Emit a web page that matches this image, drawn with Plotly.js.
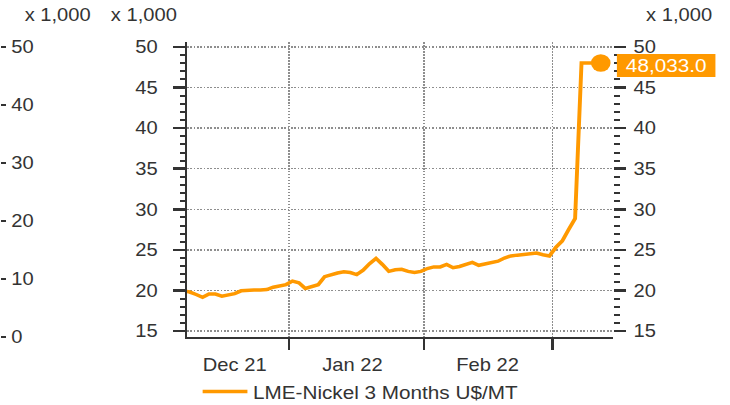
<!DOCTYPE html>
<html>
<head>
<meta charset="utf-8">
<script src="https://cdn.plot.ly/plotly-3.0.1.min.js"></script>
<style>
  html, body { margin: 0; padding: 0; background: #fff; overflow: hidden; }
  #wrap { width: 730px; height: 405px; overflow: hidden; }
  #chart { width: 652px; height: 405px; transform: scaleX(1.1196); transform-origin: 0 0; }
</style>
</head>
<body>
<div id="wrap"><div id="chart"></div></div>
<script>
// ---- data (thousand US$/MT), trading days ----
const dates = [
  '2021-12-09','2021-12-10','2021-12-13','2021-12-14','2021-12-15','2021-12-16','2021-12-17',
  '2021-12-20','2021-12-21','2021-12-22','2021-12-23','2021-12-24','2021-12-27','2021-12-28',
  '2021-12-29','2021-12-30','2021-12-31','2022-01-03','2022-01-04','2022-01-05','2022-01-06',
  '2022-01-07','2022-01-10','2022-01-11','2022-01-12','2022-01-13','2022-01-14','2022-01-17',
  '2022-01-18','2022-01-19','2022-01-20','2022-01-21','2022-01-24','2022-01-25','2022-01-26',
  '2022-01-27','2022-01-28','2022-01-31','2022-02-01','2022-02-02','2022-02-03','2022-02-04',
  '2022-02-07','2022-02-08','2022-02-09','2022-02-10','2022-02-11','2022-02-14','2022-02-15',
  '2022-02-16','2022-02-17','2022-02-18','2022-02-21','2022-02-22','2022-02-23','2022-02-24',
  '2022-02-25','2022-02-28','2022-03-01','2022-03-02','2022-03-03','2022-03-04','2022-03-07',
  '2022-03-08','2022-03-09','2022-03-10'
];
const nickel = [
  19.95, 19.8, 19.5, 19.15, 19.55, 19.55, 19.3,
  19.45, 19.6, 19.95, 20.05, 20.05, 20.05, 20.1,
  20.4, 20.6, 20.72, 21.15, 20.95, 20.25, 20.47,
  20.7, 21.7, 21.95, 22.15, 22.3, 22.2, 21.95,
  22.5, 23.3, 23.95, 23.2, 22.35, 22.55, 22.6,
  22.35, 22.2, 22.35, 22.7, 22.9, 22.9, 23.2,
  22.8, 22.95, 23.2, 23.45, 23.1, 23.25, 23.35,
  23.6, 24.0, 24.25, 24.35, 24.45, 24.55, 24.6,
  24.4, 24.25, 25.3, 26.1, 27.5, 28.85, 48.033,
  48.033, 48.033, 48.033
];
const seriesName = 'LME-Nickel 3 Months U$/MT';
const monthBounds = ['2021-12-31 23:59:59', '2022-01-31 23:59:59', '2022-02-28 23:59:59'];
const monthLabelPos = ['2021-12-21 12:00', '2022-01-14 20:00', '2022-02-14 21:00'];
const monthLabels = ['Dec 21', 'Jan 22', 'Feb 22'];
const mainTicks = [15, 20, 25, 30, 35, 40, 45, 50];
const farTicks = [0, 10, 20, 30, 40, 50];
const unitLabel = 'x 1,000';

// ---- build ----
const xs = dates.map(d => d + ' 12:00');
const lastX = xs[xs.length - 1];
const lastY = nickel[nickel.length - 1];
const fmt = v => (v * 1000).toLocaleString('en-US', {minimumFractionDigits: 1, maximumFractionDigits: 1});

const ORANGE = '#FF9900';
const DARK = '#333333';
const GRID = '#8e8e8e';
const FONT = '"Liberation Sans", Arial, sans-serif';
const xRange = ['2021-12-10 01:40', '2022-03-14 09:36'];
const yRange = [14.26, 50.62];
const breaks = [{bounds: ['sat', 'mon']}];

const traces = [
  {x: xs, y: nickel, type: 'scatter', mode: 'lines', name: seriesName,
   line: {color: ORANGE, width: 3.5}, xaxis: 'x', yaxis: 'y', hoverinfo: 'skip'},
  {x: [lastX], y: [lastY], type: 'scatter', mode: 'markers', showlegend: false,
   marker: {color: ORANGE, size: 17.5}, xaxis: 'x', yaxis: 'y', hoverinfo: 'skip', cliponaxis: false},
  {x: xs, y: nickel, type: 'scatter', mode: 'lines', showlegend: false,
   line: {color: 'rgba(0,0,0,0)', width: 0}, xaxis: 'x2', yaxis: 'y2', hoverinfo: 'skip'},
  {x: xs, y: nickel, type: 'scatter', mode: 'lines', showlegend: false,
   line: {color: 'rgba(0,0,0,0)', width: 0}, xaxis: 'x', yaxis: 'y3', hoverinfo: 'skip'}
];

const W = 652, H = 405, MT = 42, MB = 68;
const dom = [167 / W, 547.5 / W];
const tickFont = {family: FONT, size: 18, color: DARK};

const layout = {
  width: W, height: H,
  margin: {l: 0, r: 0, t: MT, b: MB, autoexpand: false},
  paper_bgcolor: '#fff', plot_bgcolor: '#fff',
  font: {family: FONT, size: 18, color: DARK},
  hovermode: false,
  showlegend: true,
  legend: {x: 176 / W, xanchor: 'left', y: -0.186, yanchor: 'middle', orientation: 'h',
           itemwidth: 40,
           font: {family: FONT, size: 18.5, color: DARK}, bgcolor: 'rgba(0,0,0,0)'},
  xaxis: {
    domain: dom, type: 'date', range: xRange, rangebreaks: breaks,
    tickmode: 'array', tickvals: monthBounds, ticktext: monthBounds.map(() => ''),
    ticks: 'outside', ticklen: 11, tickwidth: 2, tickcolor: DARK,
    showline: true, linecolor: DARK, linewidth: 2,
    showgrid: true, gridcolor: GRID, gridwidth: 1.5, griddash: '1.5px,1.5px',
    zeroline: false, anchor: 'y', fixedrange: true
  },
  xaxis2: {
    overlaying: 'x', type: 'date', range: xRange, rangebreaks: breaks, anchor: 'y', side: 'bottom',
    tickmode: 'array', tickvals: monthLabelPos, ticktext: monthLabels,
    ticks: 'outside', ticklen: 11, tickcolor: 'rgba(0,0,0,0)',
    showline: false, showgrid: false, zeroline: false, tickfont: tickFont
  },
  yaxis: {
    domain: [0, 1], range: yRange, anchor: 'x', side: 'left',
    tickmode: 'array', tickvals: mainTicks,
    ticks: 'outside', ticklen: 10.5, tickwidth: 2.5, tickcolor: DARK,
    minor: {dtick: 1, ticks: 'outside', ticklen: 4.5, tickwidth: 2, tickcolor: DARK, showgrid: false},
    showline: true, linecolor: DARK, linewidth: 2,
    showgrid: true, gridcolor: GRID, gridwidth: 1.5, griddash: '1.5px,1.5px',
    zeroline: false, tickfont: tickFont, ticklabelstandoff: 10
  },
  yaxis2: {
    overlaying: 'y', range: yRange, anchor: 'x', side: 'right',
    tickmode: 'array', tickvals: mainTicks,
    ticks: 'outside', ticklen: 10.7, tickwidth: 2.5, tickcolor: DARK,
    minor: {dtick: 1, ticks: 'outside', ticklen: 5.4, tickwidth: 2, tickcolor: DARK, showgrid: false},
    showline: false, showgrid: false, zeroline: false, tickfont: tickFont, ticklabelstandoff: 3
  },
  yaxis3: {
    overlaying: 'y', range: [0, 50.86], anchor: 'free', position: 0, side: 'right',
    tickmode: 'array', tickvals: farTicks,
    ticks: 'outside', ticklen: 4.5, tickwidth: 1.5, tickcolor: DARK,
    showline: false, showgrid: false, zeroline: false, tickfont: tickFont, ticklabelstandoff: 1
  },
  annotations: [
    {xref: 'paper', yref: 'paper', x: 51.2 / W, y: 1 + (MT - 15) / (H - MT - MB), text: unitLabel,
     showarrow: false, xanchor: 'center', yanchor: 'middle', font: tickFont},
    {xref: 'paper', yref: 'paper', x: 128.8 / W, y: 1 + (MT - 15) / (H - MT - MB), text: unitLabel,
     showarrow: false, xanchor: 'center', yanchor: 'middle', font: tickFont},
    {xref: 'paper', yref: 'paper', x: 606.2 / W, y: 1 + (MT - 15) / (H - MT - MB), text: unitLabel,
     showarrow: false, xanchor: 'center', yanchor: 'middle', font: tickFont},
    {xref: 'x', yref: 'y', x: lastX, y: lastY, text: fmt(lastY), showarrow: false,
     xanchor: 'left', yanchor: 'middle', xshift: 14, yshift: -3,
     bgcolor: ORANGE, borderpad: 0, borderwidth: 0, width: 88, height: 23,
     font: {family: FONT, size: 18.5, color: '#ffffff'}}
  ]
};

Plotly.newPlot('chart', traces, layout, {displayModeBar: false, staticPlot: true});
</script>
</body>
</html>
